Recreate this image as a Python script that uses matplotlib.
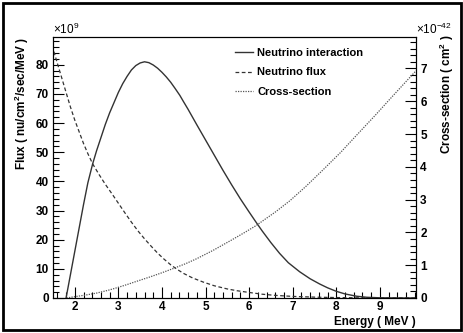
import matplotlib
matplotlib.use("Agg")
import matplotlib.pyplot as plt
from matplotlib.patches import Rectangle
from matplotlib.ticker import MultipleLocator

plt.rcParams['font.family'] = ['Liberation Sans', 'DejaVu Sans']
plt.rcParams['mathtext.fontset'] = 'custom'
plt.rcParams['mathtext.rm'] = 'Liberation Sans'
plt.rcParams['mathtext.bf'] = 'Liberation Sans:bold'
plt.rcParams['mathtext.default'] = 'bf'

# Neutrino interaction (left axis, x10^9)
e_int = [1.80, 1.9, 2.0, 2.1, 2.2, 2.3, 2.41, 2.5, 2.6, 2.7, 2.8, 2.9, 3.0,
         3.1, 3.2, 3.3, 3.4, 3.5, 3.6, 3.7, 3.8, 3.9, 4.0, 4.1, 4.2, 4.3,
         4.41, 4.5, 4.6, 4.8, 5.0, 5.2, 5.4, 5.6, 5.8, 6.0, 6.15, 6.3, 6.5,
         6.7, 6.9, 7.16, 7.4, 7.62, 7.8, 8.0, 8.2, 8.47, 8.7, 9.0, 9.4, 9.8]
interaction = [0, 8, 16, 24, 32, 39.5, 46, 50.5, 55, 59.5, 63.5, 67, 70.5,
               73.5, 76, 78.2, 79.7, 80.6, 81, 80.7, 79.9, 78.8, 77.4, 75.8, 74, 71.9,
               69.5, 67.2, 64.7, 59.4, 54.2, 49, 43.8, 38.8, 34, 29.5, 26.2, 23, 19,
               15.3, 12.1, 9.0, 6.6, 4.8, 3.5, 2.3, 1.4, 0.6, 0.25, 0.07, 0.02, 0.0]

# Neutrino flux (left axis, x10^9)
e_flux = [1.52, 1.6, 1.7, 1.8, 1.9, 2.0, 2.1, 2.2, 2.3, 2.41, 2.55, 2.7,
          2.85, 3.0, 3.15, 3.3, 3.45, 3.6, 3.75, 3.9, 4.05, 4.2, 4.35, 4.5,
          4.7, 4.94, 5.2, 5.5, 5.72, 6.0, 6.3, 6.6, 7.0, 7.5, 8.0, 8.5, 9.0,
          9.83]
flux = [84.5, 80.5, 75.5, 70.5, 65.5, 61, 57, 53, 49.5, 46, 42.5, 39,
        35.8, 32.5, 29.2, 26, 23, 20.3, 17.8, 15.4, 13.3, 11.4, 9.8, 8.4,
        6.9, 5.5, 4.2, 3.1, 2.5, 1.9, 1.3, 0.9, 0.55, 0.3, 0.15, 0.06, 0.02,
        0.0]

# Cross-section (right axis, x10^-42 cm^2)
e_xs = [1.81, 2.0, 2.25, 2.5, 2.75, 2.96, 3.2, 3.4, 3.72, 4.0, 4.3, 4.55,
        4.8, 5.17, 5.6, 5.9, 6.15, 6.6, 6.93, 7.3, 7.69, 8.1, 8.47, 8.9,
        9.22, 9.6, 9.83]
xsec = [0.0, 0.04, 0.09, 0.15, 0.23, 0.31, 0.41, 0.5, 0.64, 0.77, 0.92, 1.05,
        1.2, 1.45, 1.77, 2.0, 2.2, 2.62, 2.96, 3.4, 3.9, 4.44, 4.97, 5.58,
        6.05, 6.6, 6.93]

W, H = 464, 333
fig = plt.figure(figsize=(W / 100, H / 100), dpi=100)
ax = fig.add_axes([53 / W, 35 / H, 363 / W, 261 / H])
ax2 = ax.twinx()

l1, = ax.plot(e_int, interaction, color='#333333', lw=1.0, ls='-')
l2, = ax.plot(e_flux, flux, color='#333333', lw=0.9, ls=(0, (3, 2)))
l3, = ax2.plot(e_xs, xsec, color='#555555', lw=0.9, ls=(0, (1, 1)))

ax.set_xlim(1.5, 9.83)
ax.set_ylim(0, 89.5)
ax2.set_ylim(0, 7.96)

ax.xaxis.set_major_locator(MultipleLocator(1))
ax.xaxis.set_minor_locator(MultipleLocator(0.2))
ax.yaxis.set_major_locator(MultipleLocator(10))
ax.yaxis.set_minor_locator(MultipleLocator(2))
ax2.yaxis.set_major_locator(MultipleLocator(1))
ax2.yaxis.set_minor_locator(MultipleLocator(0.2))

ax.tick_params(axis='x', which='both', direction='in', top=False, pad=2)
ax.tick_params(axis='y', which='both', direction='in', right=False, pad=3)
ax2.tick_params(axis='y', which='both', direction='in', left=False, pad=3)
for a in (ax, ax2):
    a.tick_params(which='major', length=8, width=0.8, labelsize=8.5)
    a.tick_params(which='minor', length=4, width=0.8)
    for s in a.spines.values():
        s.set_linewidth(0.8)
for lab in ax.get_xticklabels() + ax.get_yticklabels() + ax2.get_yticklabels():
    lab.set_fontweight('bold')

# axis titles and exponents
fig.text(416 / W, 1 - 322 / H, 'Energy ( MeV )', ha='right', va='center',
         fontsize=8.5, fontweight='bold')
fig.text(22 / W, 1 - 37 / H, 'Flux ( nu/cm$^{2}$/sec/MeV )', rotation=90,
         ha='center', va='top', fontsize=8.5, fontweight='bold')
fig.text(447 / W, 1 - 35 / H, 'Cross-section ( cm$^{2}$ )', rotation=90,
         ha='center', va='top', fontsize=8.5, fontweight='bold')
fig.text(53 / W, 1 - 37 / H, '×10$\\mathrm{^{9}}$', ha='left', va='bottom',
         fontsize=8.5)
fig.text(416 / W, 1 - 37 / H, '×10$\\mathrm{^{-42}}$', ha='left', va='bottom',
         fontsize=8.5)

fig.legend([l1, l2, l3], ['Neutrino interaction', 'Neutrino flux', 'Cross-section'],
           loc='upper left', bbox_to_anchor=(225 / W, 1 - 38 / H), frameon=False,
           handlelength=1.6, handletextpad=0.4, labelspacing=0.85,
           prop={'weight': 'bold', 'size': 8})

# outer frame
fig.patches.append(Rectangle((3 / W, 3 / H), 458 / W, 327 / H, fill=False,
                             lw=2, edgecolor='black', transform=fig.transFigure))

fig.savefig('out.png', dpi=100)
